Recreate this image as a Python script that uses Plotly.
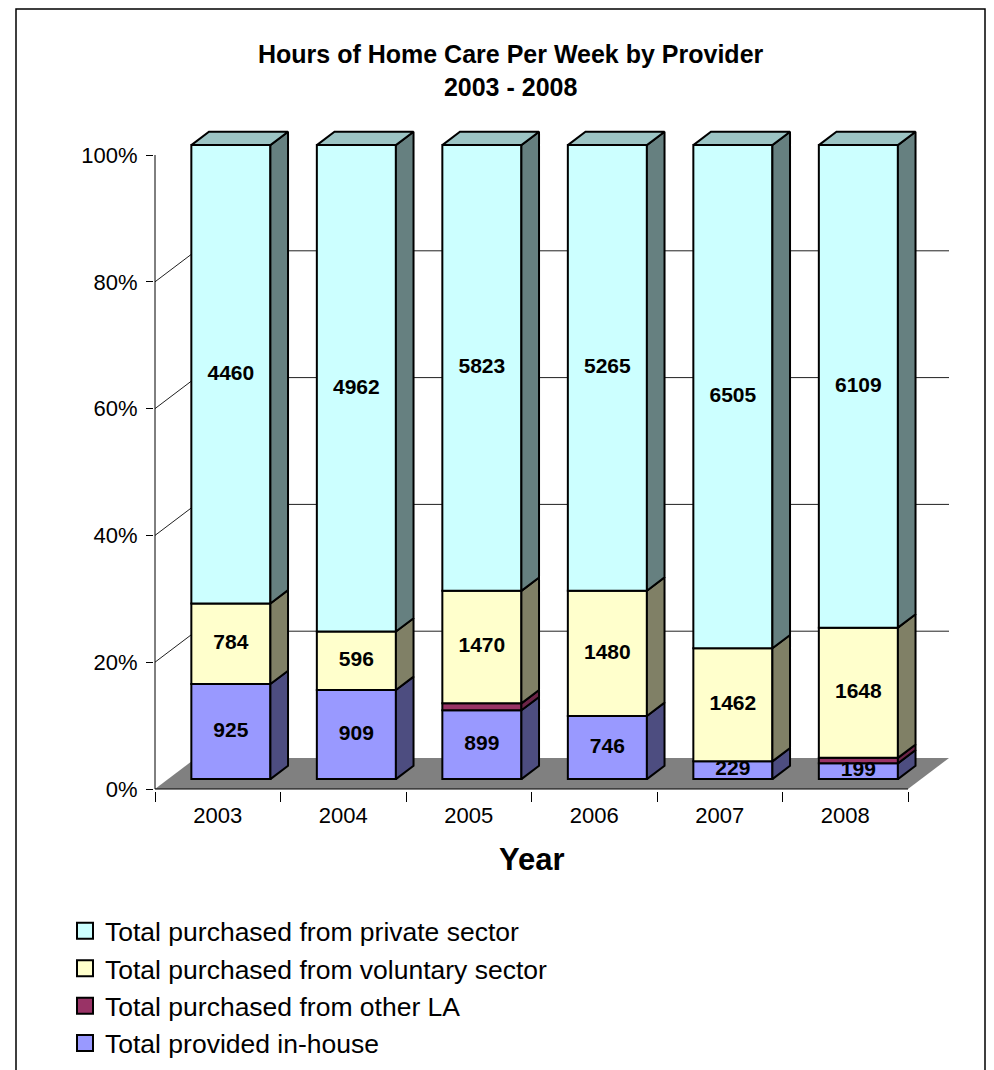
import plotly.graph_objects as go

# ---------------- data ----------------
years = ["2003", "2004", "2005", "2006", "2007", "2008"]
in_house = [925, 909, 899, 746, 229, 199]
other_la = [0, 0, 90, 0, 0, 70]
voluntary = [784, 596, 1470, 1480, 1462, 1648]
private = [4460, 4962, 5823, 5265, 6505, 6109]

series_names = [
    "Total provided in-house",
    "Total purchased from other LA",
    "Total purchased from voluntary sector",
    "Total purchased from private sector",
]
series_values = [in_house, other_la, voluntary, private]
show_labels = [True, False, True, True]
y_ticks = [0, 20, 40, 60, 80, 100]
y_tick_labels = ["0%", "20%", "40%", "60%", "80%", "100%"]
grid_levels = [20, 40, 60, 80]

# ---------------- style ----------------
front_colors = ["#9999FF", "#993366", "#FFFFCC", "#CCFFFF"]
side_colors = ["#4D4D80", "#6B2447", "#808066", "#668080"]
top_color = "#9CC4C4"
FONT = "Arial, Liberation Sans, sans-serif"

PAGE_OFFSET = 8       # default body margin of the html page
W_PX, H_PX = 994, 1070
# plot area (in figure pixels)
L = 154 - PAGE_OFFSET
T = 128 - PAGE_OFFSET
PLOT_RIGHT = 952 - PAGE_OFFSET
PLOT_BOTTOM = 791 - PAGE_OFFSET
R = W_PX - PLOT_RIGHT
B = H_PX - PLOT_BOTTOM
PW = W_PX - L - R
PH = H_PX - T - B
PX_PER_X = 125.5      # pixels per category slot
PX_PER_Y = 6.34       # pixels per percent
x0 = -0.5 - 1 / PX_PER_X
y0 = -2 / PX_PER_Y
x_range = [x0, x0 + PW / PX_PER_X]
y_range = [y0, y0 + PH / PX_PER_Y]

DX = 41 / PX_PER_X    # full depth offset (x)
DY = 31 / PX_PER_Y    # full depth offset (y, percent)
D_FRONT, D_BACK = 0.32, 0.75
BAR_W = 0.63


def paper_x(px):
    """screen pixel -> paper fraction"""
    return (px - PAGE_OFFSET - L) / PW


def paper_y(py):
    return (PLOT_BOTTOM - (py - PAGE_OFFSET)) / PH


n = len(years)
totals = [sum(s[i] for s in series_values) for i in range(n)]
pct = [[100.0 * s[i] / totals[i] for i in range(n)] for s in series_values]

fig = go.Figure()

fx = [i + D_FRONT * DX for i in range(n)]          # front-face centres
fy = D_FRONT * DY                                  # front-face vertical shift
ddx = (D_BACK - D_FRONT) * DX
ddy = (D_BACK - D_FRONT) * DY

label_x, label_y, label_t = [], [], []
cum = [0.0] * n
for k, name in enumerate(series_names):
    xs, bases, hs = [], [], []
    sx, sy = [], []
    for i in range(n):
        h = pct[k][i]
        b = cum[i]
        if h > 0:
            xs.append(fx[i])
            bases.append(b + fy)
            hs.append(h)
            xr = fx[i] + BAR_W / 2
            sx += [xr, xr + ddx, xr + ddx, xr, xr, None]
            sy += [b + fy, b + fy + ddy, b + h + fy + ddy, b + h + fy, b + fy, None]
            if show_labels[k]:
                label_x.append(fx[i])
                label_y.append(b + h / 2 + fy)
                label_t.append(str(series_values[k][i]))
        cum[i] = b + h
    fig.add_trace(go.Bar(
        x=xs, y=hs, base=bases, width=BAR_W, name=name, showlegend=False,
        marker=dict(color=front_colors[k], line=dict(color="black", width=2)),
        hoverinfo="skip",
    ))
    fig.add_trace(go.Scatter(
        x=sx, y=sy, mode="lines", fill="toself", fillcolor=side_colors[k],
        line=dict(color="black", width=2), showlegend=False, hoverinfo="skip",
    ))

# top faces
tx, ty = [], []
for i in range(n):
    xl = fx[i] - BAR_W / 2
    xr = fx[i] + BAR_W / 2
    top = cum[i] + fy
    tx += [xl, xl + ddx, xr + ddx, xr, xl, None]
    ty += [top, top + ddy, top + ddy, top, top, None]
fig.add_trace(go.Scatter(
    x=tx, y=ty, mode="lines", fill="toself", fillcolor=top_color,
    line=dict(color="black", width=2), showlegend=False, hoverinfo="skip",
))

# data labels
fig.add_trace(go.Scatter(
    x=label_x, y=label_y, text=label_t, mode="text",
    textfont=dict(family=FONT, size=21, color="black", weight="bold"),
    showlegend=False, hoverinfo="skip", cliponaxis=False,
))

# legend entries (top to bottom)
for k in [3, 2, 1, 0]:
    fig.add_trace(go.Scatter(
        x=[None], y=[None], mode="markers", name=series_names[k],
        marker=dict(symbol="square", size=16, color=front_colors[k],
                    line=dict(color="black", width=2)),
    ))

shapes = []
# floor
x_first, x_last = -0.5, n - 0.5
shapes.append(dict(
    type="path", xref="x", yref="y", layer="below",
    path=f"M {x_first},0 L {x_last},0 L {x_last + DX},{DY} L {x_first + DX},{DY} Z",
    fillcolor="#808080", line=dict(width=0),
))
# side wall + back wall gridlines
for v in grid_levels:
    shapes.append(dict(
        type="path", xref="x", yref="y", layer="below",
        path=f"M {x_first},{v} L {x_first + DX},{v + DY} L {x_last + DX},{v + DY}",
        line=dict(color="#202020", width=1),
    ))
# front axis lines
shapes.append(dict(type="line", xref="x", yref="y", x0=x_first, x1=x_first,
                   y0=0, y1=y_ticks[-1], line=dict(color="black", width=1)))
shapes.append(dict(type="line", xref="x", yref="y", x0=x_first, x1=x_last,
                   y0=0, y1=0, line=dict(color="black", width=1)))
# chart frame
shapes.append(dict(type="rect", xref="paper", yref="paper",
                   x0=paper_x(16), x1=paper_x(985), y0=paper_y(1090), y1=paper_y(9),
                   line=dict(color="black", width=1.5), fillcolor="rgba(0,0,0,0)"))

annotations = [
    dict(text="Hours of Home Care Per Week by Provider<br>2003 - 2008",
         xref="paper", yref="paper", x=paper_x(510.5), y=paper_y(70),
         xanchor="center", yanchor="middle", showarrow=False,
         font=dict(family=FONT, size=25, color="black", weight="bold")),
    dict(text="Year", xref="x", yref="paper", x=(n - 1) / 2, y=paper_y(859),
         xanchor="center", yanchor="middle", showarrow=False,
         font=dict(family=FONT, size=31, color="black", weight="bold")),
]

fig.update_layout(
    width=W_PX, height=H_PX,
    margin=dict(l=L, r=R, t=T, b=B, pad=0, autoexpand=False),
    paper_bgcolor="white", plot_bgcolor="rgba(0,0,0,0)",
    barmode="overlay",
    shapes=shapes, annotations=annotations,
    showlegend=True,
    legend=dict(
        xref="container", yref="container",
        x=57 / W_PX, y=1 - 899 / H_PX, xanchor="left", yanchor="top",
        font=dict(family=FONT, size=26.5, color="black"),
        bgcolor="rgba(0,0,0,0)", traceorder="normal",
    ),
    xaxis=dict(
        range=x_range, showgrid=False, zeroline=False, showline=False,
        tickmode="array", tickvals=list(range(n)), ticktext=years,
        ticks="", ticklabelstandoff=9, automargin=False,
        tickfont=dict(family=FONT, size=22, color="black"),
        minor=dict(tickmode="array", tickvals=[i - 0.5 for i in range(n + 1)],
                   ticks="outside", ticklen=10, tickcolor="black", tickwidth=1),
        fixedrange=True,
    ),
    yaxis=dict(
        range=y_range, showgrid=False, zeroline=False, showline=False,
        tickmode="array", tickvals=y_ticks, ticktext=y_tick_labels,
        ticks="outside", ticklen=7, tickcolor="black", tickwidth=1,
        ticklabelstandoff=4, automargin=False,
        tickfont=dict(family=FONT, size=22, color="black"),
        fixedrange=True,
    ),
)

fig.write_html("out.html")
